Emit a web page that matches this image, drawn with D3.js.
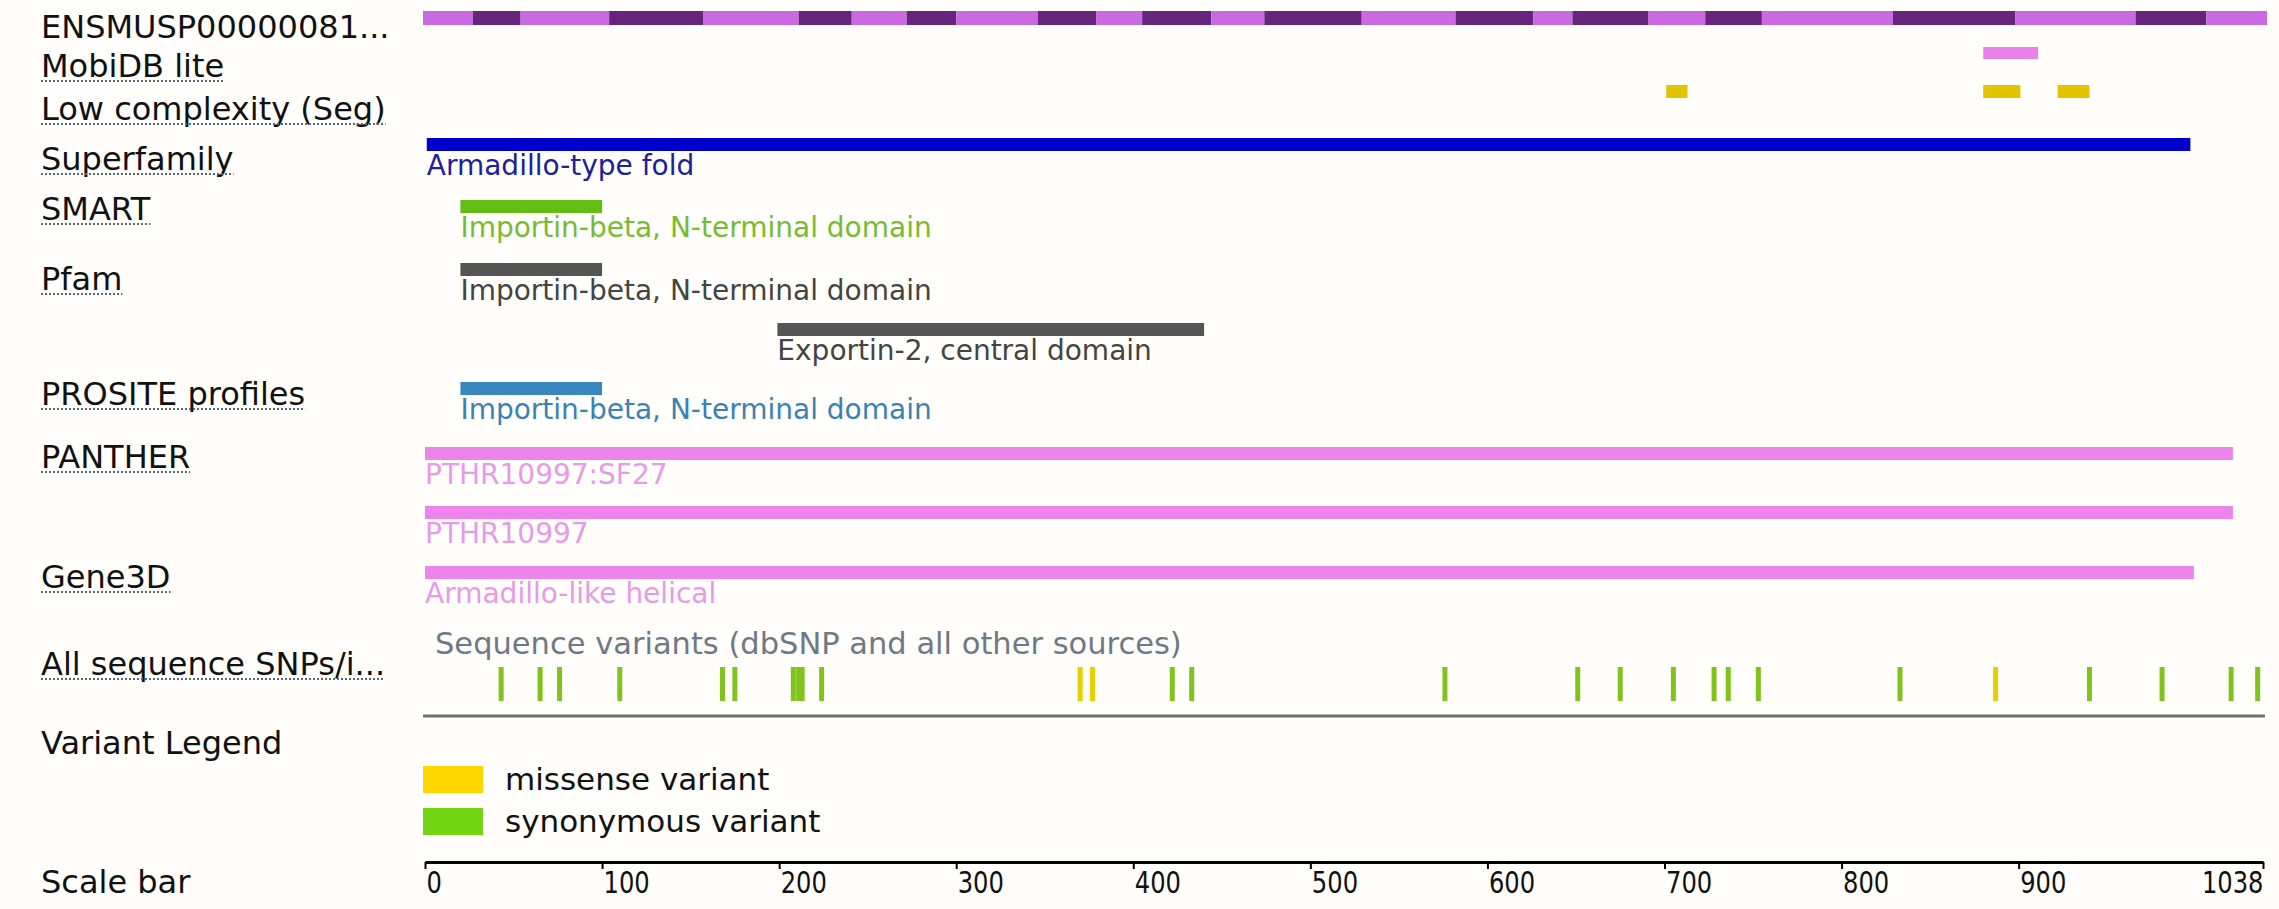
<!DOCTYPE html>
<html>
<head>
<meta charset="utf-8">
<script src="https://cdn.jsdelivr.net/npm/d3@7"></script>
<style>
  html, body { margin: 0; padding: 0; background: #fffefa; }
  text { font-family: "DejaVu Sans", "Liberation Sans", sans-serif; }
</style>
</head>
<body>
<div id="chart"></div>
<script>
// ---- data (residue positions) ----
var proteinLength = 1038;
var exonBounds = [0, 27, 54, 104, 157, 211, 241, 272, 300, 346, 379, 405, 444, 474, 529, 582, 626, 648, 691, 723, 755, 829, 898, 966, 1006, 1038];

var trackLabels = ["ENSMUSP00000081...", "MobiDB lite", "Low complexity (Seg)", "Superfamily", "SMART", "Pfam",
                   "PROSITE profiles", "PANTHER", "Gene3D", "All sequence SNPs/i...", "Variant Legend", "Scale bar"];

var mobidbStart = [880];
var mobidbEnd = [911];
var segStart = [701, 880, 922];
var segEnd = [713, 901, 940];

var superfamilyStart = [1], superfamilyEnd = [997], superfamilyName = ["Armadillo-type fold"];
var smartStart = [20], smartEnd = [100], smartName = ["Importin-beta, N-terminal domain"];
var pfamStart = [20, 199], pfamEnd = [100, 440], pfamName = ["Importin-beta, N-terminal domain", "Exportin-2, central domain"];
var prositeStart = [20], prositeEnd = [100], prositeName = ["Importin-beta, N-terminal domain"];
var pantherStart = [0, 0], pantherEnd = [1021, 1021], pantherName = ["PTHR10997:SF27", "PTHR10997"];
var gene3dStart = [0], gene3dEnd = [999], gene3dName = ["Armadillo-like helical"];

var snpPos = [43, 65, 76, 110, 168, 175, 208, 211, 213, 224, 370, 377, 422, 433, 576, 651, 675, 705, 728, 736, 753, 833, 887, 940, 981, 1020, 1035];
var snpType = ["syn", "syn", "syn", "syn", "syn", "syn", "syn", "syn", "syn", "syn", "mis", "mis", "syn", "syn",
               "syn", "syn", "syn", "syn", "syn", "syn", "syn", "syn", "mis", "syn", "syn", "syn", "syn"];

var legendNames = ["missense variant", "synonymous variant"];
var scaleTicks = [0, 100, 200, 300, 400, 500, 600, 700, 800, 900, 1038];

// ---- drawing ----
var W = 2279, H = 909;
var svg = d3.select("#chart").append("svg")
    .attr("width", W).attr("height", H);
svg.append("rect").attr("width", W).attr("height", H).attr("fill", "#fffefa");

var x = d3.scaleLinear().domain([0, proteinLength]).range([425, 2263]);

// left hand labels, baseline of each
var labelBase = [38, 77, 120, 170, 220, 290, 405, 468, 588, 675, 754, 893];
var underlined = [false, true, true, true, true, true, true, true, true, true, false, false];

trackLabels.forEach(function(t, i) {
    var txt = svg.append("text")
        .attr("x", 41).attr("y", labelBase[i])
        .attr("font-size", 32)
        .attr("fill", "#111")
        .text(t);
    if (underlined[i]) {
        var w = txt.node().getComputedTextLength();
        svg.append("line")
            .attr("x1", 41).attr("x2", 41 + w)
            .attr("y1", labelBase[i] + 4).attr("y2", labelBase[i] + 4)
            .attr("stroke", "#55658c").attr("stroke-width", 2)
            .attr("stroke-dasharray", "2,2");
    }
});

// protein with alternating exons
var exons = d3.pairs(exonBounds);
svg.append("g").selectAll("rect")
    .data(exons).enter().append("rect")
    .attr("x", function(d) { return x(d[0]) - (d[0] == 0 ? 2 : 0); })
    .attr("width", function(d) { return x(d[1]) - x(d[0]) + (d[0] == 0 ? 2 : 0) + (d[1] == proteinLength ? 4 : 0); })
    .attr("y", 11).attr("height", 14)
    .attr("fill", function(d, i) { return i % 2 == 0 ? "#c96ae0" : "#66247a"; });

function boxes(starts, ends, y, h, color) {
    svg.append("g").selectAll("rect")
        .data(d3.zip(starts, ends)).enter().append("rect")
        .attr("x", function(d) { return x(d[0]); })
        .attr("width", function(d) { return x(d[1]) - x(d[0]); })
        .attr("y", y).attr("height", h)
        .attr("fill", color);
}
boxes(mobidbStart, mobidbEnd, 47, 12, "#ea80ea");
boxes(segStart, segEnd, 85, 13, "#e3c400");

// domain tracks: one entry per row of bars
function domains(starts, ends, names, ys, color, textColor) {
    var g = svg.append("g");
    var rows = d3.zip(starts, ends, names, ys);
    g.selectAll("rect").data(rows).enter().append("rect")
        .attr("x", function(d) { return x(d[0]); })
        .attr("width", function(d) { return x(d[1]) - x(d[0]); })
        .attr("y", function(d) { return d[3]; })
        .attr("height", 13)
        .attr("fill", color);
    g.selectAll("text").data(rows).enter().append("text")
        .attr("x", function(d) { return x(d[0]); })
        .attr("y", function(d) { return d[3] + 37; })
        .attr("font-size", 28)
        .attr("fill", textColor)
        .text(function(d) { return d[2]; });
}
domains(superfamilyStart, superfamilyEnd, superfamilyName, [138], "#0000cc", "#20209a");
domains(smartStart, smartEnd, smartName, [200], "#63be14", "#77bb33");
domains(pfamStart, pfamEnd, pfamName, [263, 323], "#555555", "#444444");
domains(prositeStart, prositeEnd, prositeName, [382], "#3a87c0", "#3a82b4");
domains(pantherStart, pantherEnd, pantherName, [447, 506], "#ec84ec", "#e79ae7");
domains(gene3dStart, gene3dEnd, gene3dName, [566], "#ec84ec", "#e79ae7");

// variants
var typeColor = { mis: "#e8cf00", syn: "#80c31c" };
svg.append("text")
    .attr("x", 435).attr("y", 654)
    .attr("font-size", 30.5)
    .attr("fill", "#707888")
    .text("Sequence variants (dbSNP and all other sources)");

svg.append("g").selectAll("rect")
    .data(d3.zip(snpPos, snpType)).enter().append("rect")
    .attr("x", function(d) { return x(d[0]) - 2.5; })
    .attr("width", 5)
    .attr("y", 667).attr("height", 34)
    .attr("fill", function(d) { return typeColor[d[1]]; });

svg.append("line")
    .attr("x1", x(0) - 2).attr("x2", x(proteinLength) + 2)
    .attr("y1", 716).attr("y2", 716)
    .attr("stroke", "#707070").attr("stroke-width", 3);

// legend
var legendColor = ["#ffd700", "#73d414"];
var legendY = [766, 808];
legendNames.forEach(function(n, i) {
    svg.append("rect")
        .attr("x", 423).attr("y", legendY[i])
        .attr("width", 60).attr("height", 27)
        .attr("fill", legendColor[i]);
    svg.append("text")
        .attr("x", 505).attr("y", legendY[i] + 24)
        .attr("font-size", 31)
        .attr("fill", "#111")
        .text(n);
});

// scale bar
var axis = d3.axisBottom(x)
    .tickValues(scaleTicks)
    .tickSize(7)
    .tickSizeOuter(0)
    .tickFormat(d3.format("d"));
var ag = svg.append("g")
    .attr("transform", "translate(0,862)")
    .call(axis);
ag.select(".domain").attr("stroke", "#000").attr("stroke-width", 3);
ag.selectAll(".tick line").attr("stroke", "#000").attr("stroke-width", 2);
ag.selectAll(".tick text")
    .attr("font-family", "DejaVu Sans, sans-serif")
    .attr("font-size", 30)
    .attr("fill", "#111")
    .attr("y", 31).attr("dy", null)
    .attr("text-anchor", function(d) { return d == proteinLength ? "end" : "start"; })
    .attr("x", function(d) { return d == proteinLength ? 0 : 1; })
    .attr("textLength", function(d) { return String(d).length * 15.4; })
    .attr("lengthAdjust", "spacingAndGlyphs");
</script>
</body>
</html>
